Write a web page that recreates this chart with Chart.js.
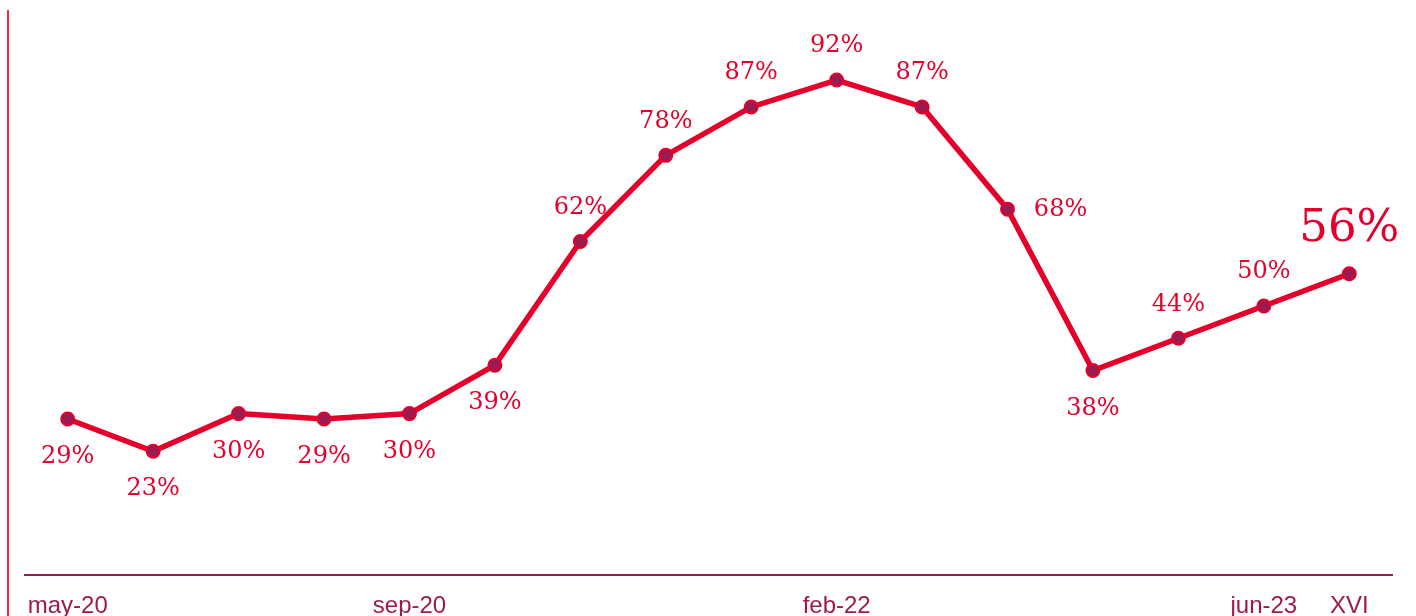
<!DOCTYPE html>
<html lang="es">
<head>
    <meta charset="UTF-8">
    <title>Evolución</title>
    <style>
        html, body { margin: 0; padding: 0; background: #fff; overflow: hidden; }
    </style>
</head>
<body>
    <canvas id="chart1" width="1416" height="616"></canvas>
    <script src="https://cdn.jsdelivr.net/npm/chart.js@4/dist/chart.umd.min.js"></script>
    <script>
        // categorías (solo algunas llevan etiqueta visible)
        const periods = ['may-20', '', '', '', 'sep-20', '', '', '', '', 'feb-22', '', '', '', '', 'jun-23', 'XVI'];
        // valores en %
        const values = [29, 23, 30, 29, 30, 39, 62, 78, 87, 92, 87, 68, 38, 44, 50, 56];
        // dónde va cada etiqueta respecto al punto
        const labelSide = ['below', 'below', 'below', 'below', 'below', 'below', 'above', 'above',
                           'above', 'above', 'above', 'right', 'below', 'above', 'above', 'big'];

        const red = '#e4002b';
        const maroon = '#9b1b50';

        // etiquetas de valor + línea vertical izquierda
        const labelPlugin = {
            id: 'valueLabels',
            afterDatasetsDraw(chart) {
                const ctx = chart.ctx;
                const meta = chart.getDatasetMeta(0);
                ctx.save();
                ctx.fillStyle = red;
                ctx.textAlign = 'center';
                ctx.textBaseline = 'middle';
                meta.data.forEach((pt, i) => {
                    const txt = values[i] + '%';
                    const side = labelSide[i];
                    if (side === 'big') {
                        ctx.font = '45px "DejaVu Serif"';
                        ctx.fillText(txt, pt.x, pt.y - 44);
                    } else {
                        ctx.font = '24px "DejaVu Serif"';
                        if (side === 'above') ctx.fillText(txt, pt.x, pt.y - 34);
                        else if (side === 'below') ctx.fillText(txt, pt.x, pt.y + 38);
                        else ctx.fillText(txt, pt.x + 53, pt.y + 1);
                    }
                });
                ctx.restore();
            },
            beforeDraw(chart) {
                const ctx = chart.ctx;
                ctx.save();
                ctx.strokeStyle = '#f0284a';
                ctx.lineWidth = 2;
                ctx.beginPath();
                ctx.moveTo(8, 10);
                ctx.lineTo(8, 616);
                ctx.stroke();
                ctx.restore();
            }
        };

        new Chart(chart1, {
            type: 'line',
            data: {
                labels: periods,
                datasets: [
                    {
                        data: values,
                        borderColor: red,
                        borderWidth: 5.5,
                        pointRadius: 6.5,
                        pointBorderWidth: 2,
                        pointBorderColor: red,
                        pointBackgroundColor: maroon,
                        tension: 0
                    }
                ]
            },
            options: {
                responsive: false,
                animation: false,
                layout: {
                    padding: { left: 25, right: 24, top: 37, bottom: 0 }
                },
                plugins: {
                    legend: { display: false },
                    tooltip: { enabled: false }
                },
                scales: {
                    x: {
                        offset: true,
                        grid: { display: false, drawTicks: false },
                        border: { display: true, color: maroon, width: 2 },
                        ticks: {
                            autoSkip: false,
                            maxRotation: 0,
                            padding: 17,
                            color: maroon,
                            font: { family: '"Liberation Sans"', size: 24 }
                        },
                        afterFit(axis) { axis.height = 41; }
                    },
                    y: {
                        display: false,
                        min: 0,
                        max: 100
                    }
                }
            },
            plugins: [labelPlugin]
        });
    </script>
</body>
</html>
